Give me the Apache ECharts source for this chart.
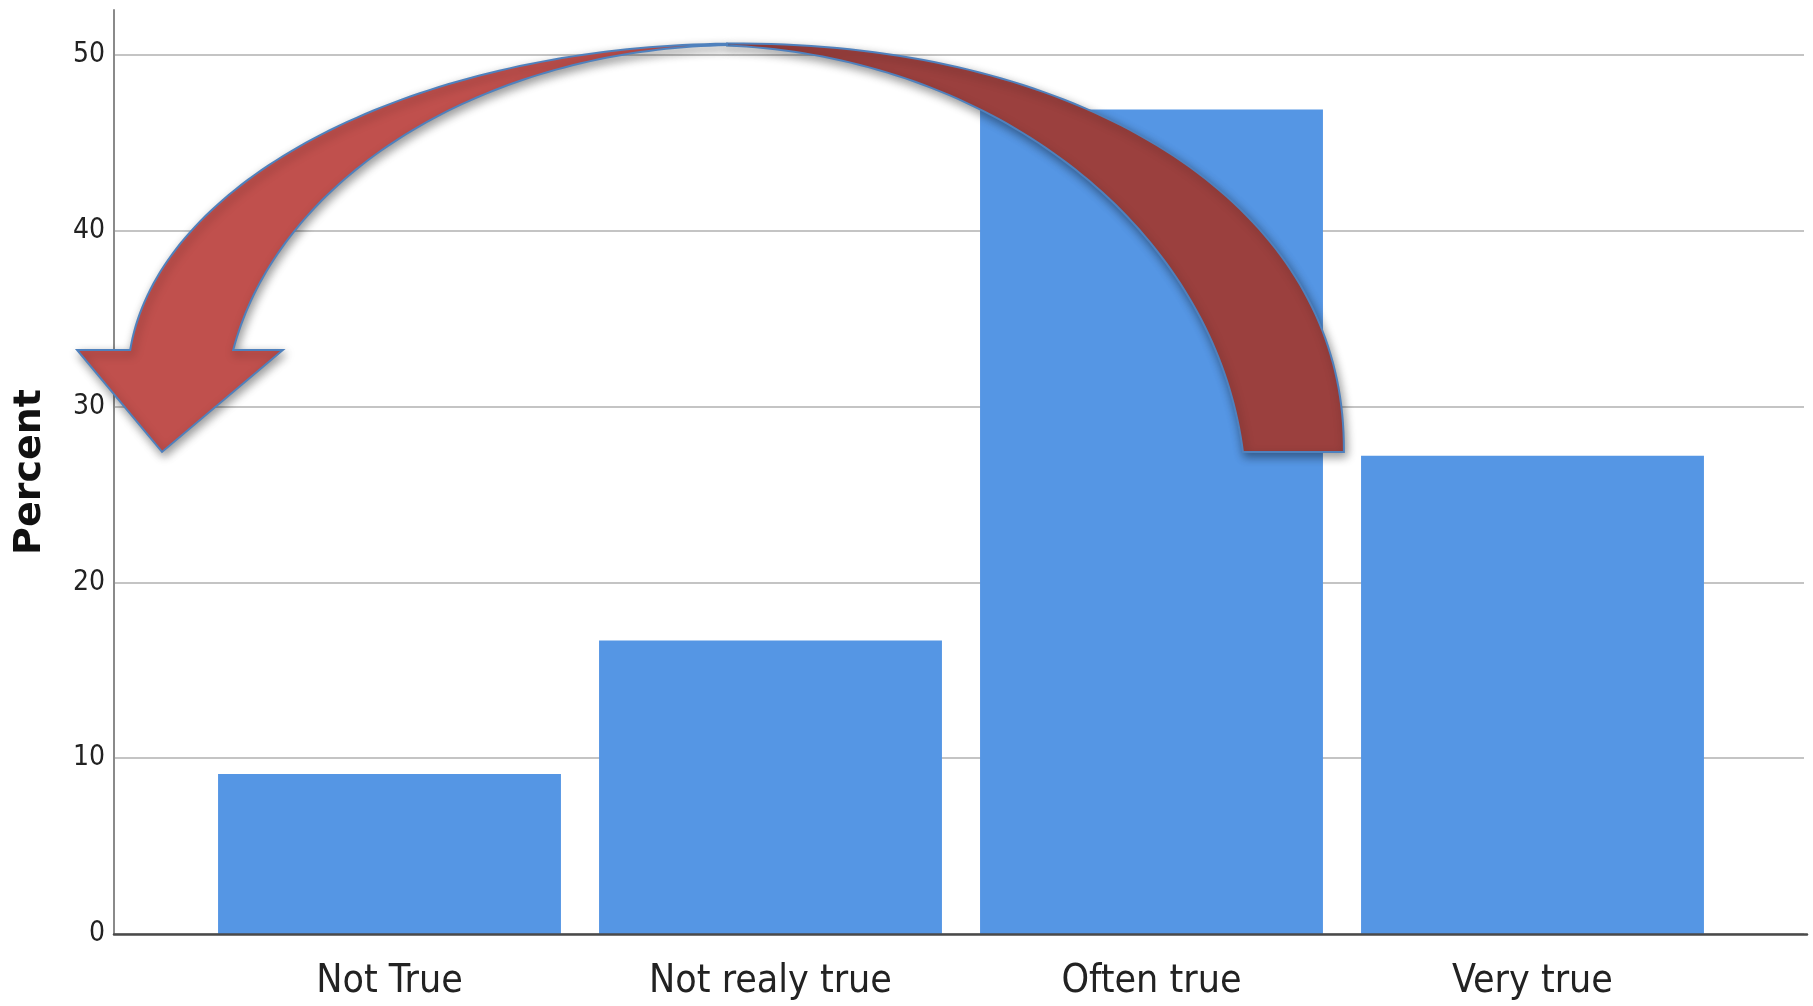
<!DOCTYPE html>
<html>
<head>
<meta charset="utf-8">
<script src="https://cdn.jsdelivr.net/npm/echarts@6/dist/echarts.min.js"></script>
<style>
  html, body { margin: 0; padding: 0; background: #ffffff; }
  #chart { width: 1813px; height: 1006px; }
</style>
</head>
<body>
<div id="chart"></div>
<script>
// Response categories and their share of answers (%)
const categories = ['Not True', 'Not realy true', 'Often true', 'Very true'];
const percentValues = [9.1, 16.7, 46.9, 27.2];
// Value axis ticks
const yTicks = [0, 10, 20, 30, 40, 50];

// Curved arrow geometry, in [category position, percent] units.
// Each edge is a (super)elliptic arc: centre, radii and exponent.
const arrowCrestX = 0.886;
const leftOuterArc  = { cx: 0.920, cy: 31.51, rx: 1.607, ry: 19.14, n: 2.0 };
const leftInnerArc  = { cx: 0.920, cy: 29.24, rx: 1.354, ry: 21.33, n: 2.0 };
const rightOuterArc = { cx: 0.886, cy: 27.42, rx: 1.619, ry: 23.24, n: 2.15 };
const rightInnerArc = { cx: 0.815, cy: 24.69, rx: 1.433, ry: 25.88, n: 2.0 };
const arrowShaftEnd = 33.22;   // where the shaft meets the head
const arrowTailEnd = 27.42;    // flat cut of the back end
const arrowHead = [[-0.280, 33.22], [-0.597, 27.42], [-0.820, 33.22]];

const labelFont = "'Liberation Sans Narrow', 'Arial Narrow', 'DejaVu Sans Condensed', sans-serif";
const yMin = yTicks[0];
const yMax = yTicks[yTicks.length - 1];
const yStep = yTicks[1] - yTicks[0];

const chart = echarts.init(document.getElementById('chart'), null, { renderer: 'canvas' });

const option = {
  backgroundColor: '#ffffff',
  animation: false,
  grid: [
    { left: 114, right: 6, top: 10, bottom: 72 },   // outer frame (axis lines)
    { left: 114, right: 9, top: 55, bottom: 72 },   // value scale with gridlines
    { left: 199, right: 90, top: 55, bottom: 72 }   // category bands
  ],
  xAxis: [
    {
      gridIndex: 0, type: 'value', min: 0, max: 1, z: 5,
      axisLine: { show: true, onZero: false, lineStyle: { color: '#4a4a4a', width: 2.5 } },
      axisTick: { show: false }, axisLabel: { show: false }, splitLine: { show: false }
    },
    { gridIndex: 1, type: 'value', min: 0, max: 1, show: false },
    {
      gridIndex: 2, type: 'category', data: categories,
      axisLine: { show: false }, axisTick: { show: false },
      axisLabel: { margin: 28, fontSize: 39, fontFamily: labelFont, color: '#222222' }
    },
    { gridIndex: 2, type: 'value', min: -0.5, max: categories.length - 0.5, show: false }
  ],
  yAxis: [
    {
      gridIndex: 0, type: 'value', min: 0, max: 1,
      axisLine: { show: true, lineStyle: { color: '#8a8a8a', width: 2 } },
      axisTick: { show: false }, axisLabel: { show: false }, splitLine: { show: false },
      name: 'Percent', nameLocation: 'middle', nameGap: 65,
      nameTextStyle: { fontSize: 38, fontWeight: 'bold', fontFamily: "'DejaVu Sans', sans-serif", color: '#111111' }
    },
    {
      gridIndex: 1, type: 'value', min: yMin, max: yMax, interval: yStep,
      axisLine: { show: false }, axisTick: { show: false },
      axisLabel: { margin: 9, fontSize: 28, padding: [8, 0, 0, 0], fontFamily: labelFont, color: '#222222' },
      splitLine: { show: true, lineStyle: { color: '#c4c4c4', width: 2 } }
    },
    { gridIndex: 2, type: 'value', min: yMin, max: yMax, show: false }
  ],
  series: [{
    type: 'bar',
    xAxisIndex: 2,
    yAxisIndex: 2,
    data: percentValues,
    barCategoryGap: '10%',
    itemStyle: { color: '#5596e4' }
  }]
};

chart.setOption(option);

// Map arrow points through the band axes
function toPx(p) {
  return [
    chart.convertToPixel({ xAxisIndex: 3 }, p[0]),
    chart.convertToPixel({ yAxisIndex: 2 }, p[1])
  ];
}

function sgnPow(v, e) {
  return Math.sign(v) * Math.pow(Math.abs(v), e);
}

// Sample a superelliptic arc from the crest (given x) down to a given y on one side
function arcPoints(a, side, xStart, yEnd, steps) {
  const e = 2 / a.n;
  const s = Math.max(-1, Math.min(1, (xStart - a.cx) / a.rx));
  const phi0 = Math.asin(sgnPow(s, a.n / 2));
  const c = Math.max(0, Math.min(1, (yEnd - a.cy) / a.ry));
  const phi1 = side * Math.acos(Math.pow(c, a.n / 2));
  const pts = [];
  for (let i = 0; i <= steps; i++) {
    const phi = phi0 + (phi1 - phi0) * i / steps;
    pts.push([
      a.cx + a.rx * sgnPow(Math.sin(phi), e),
      a.cy + a.ry * Math.pow(Math.abs(Math.cos(phi)), e)
    ]);
  }
  return pts;
}

const frontData = arcPoints(leftOuterArc, -1, arrowCrestX, arrowShaftEnd, 80).reverse()
  .concat(arcPoints(leftInnerArc, -1, arrowCrestX, arrowShaftEnd, 80))
  .concat(arrowHead);
const backData = arcPoints(rightOuterArc, 1, arrowCrestX, arrowTailEnd, 80)
  .concat(arcPoints(rightInnerArc, 1, arrowCrestX, arrowTailEnd, 80).reverse());

const arrowStyle = {
  stroke: '#4f81bd', lineWidth: 2, lineJoin: 'miter',
  shadowBlur: 10, shadowColor: 'rgba(0,0,0,0.4)', shadowOffsetX: 2, shadowOffsetY: 4
};

chart.setOption({
  graphic: [
    { type: 'polygon', z: 100, shape: { points: backData.map(toPx) }, style: Object.assign({ fill: '#9b403e' }, arrowStyle) },
    { type: 'polygon', z: 101, shape: { points: frontData.map(toPx) }, style: Object.assign({ fill: '#c0504d' }, arrowStyle) }
  ]
});
</script>
</body>
</html>
